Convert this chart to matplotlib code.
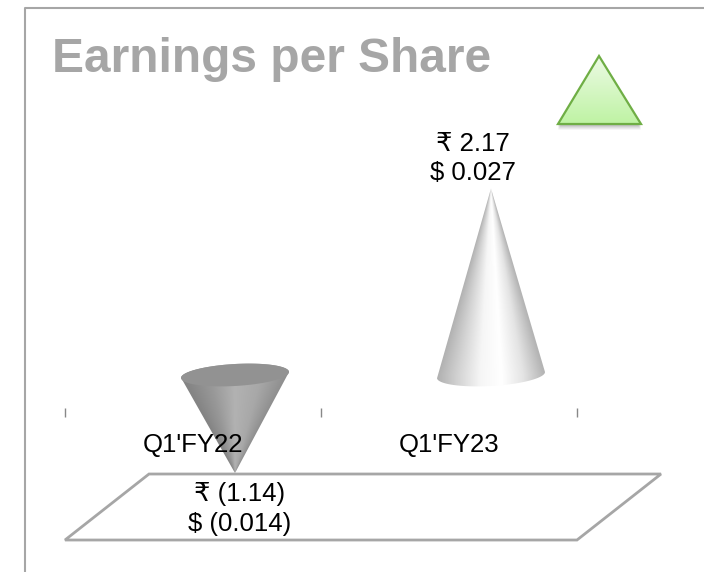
import numpy as np
import matplotlib
matplotlib.use("Agg")
import matplotlib.pyplot as plt
from matplotlib.colors import LinearSegmentedColormap
from matplotlib.patches import Polygon

plt.rcParams['font.family'] = ['Liberation Sans', 'DejaVu Sans']

title = "Earnings per Share"
categories = ["Q1'FY22", "Q1'FY23"]
eps_inr = [-1.14, 2.17]
inr_labels = ["₹ (1.14)", "₹ 2.17"]
usd_labels = ["$ (0.014)", "$ 0.027"]

W, H = 704, 572
# plot area in pixels
left_px, right_px = 65, 577
zero_px = 408      # front of the zero plane
px_per_unit = 86
y_min = -1.535
y_max = 4.0
depth_x = 84       # 3d depth of the floor, pixels
depth_y = 66

fig = plt.figure(figsize=(W / 100, H / 100), dpi=100)

# decoration layer in pixel coords
bg = fig.add_axes([0, 0, 1, 1])
bg.set_xlim(0, W)
bg.set_ylim(H, 0)
bg.axis("off")
bg.plot([24.5, 24.5, W], [H, 7.5, 7.5], color="#a6a6a6", lw=1.5)
bg.text(52, 60, title, fontsize=34.5, fontweight="bold", color="#a6a6a6", va="center")

# green arrow
tri = np.array([[599, 56], [641, 124], [558, 124]])
for off, a in [(6, 0.05), (5, 0.07), (4, 0.08), (3, 0.1), (2, 0.12)]:
    bg.add_patch(Polygon(tri + [0, off], closed=True, fc="#555555", ec="none", alpha=a, zorder=1))
green = LinearSegmentedColormap.from_list("g", ["#ecfae4", "#bff3a4"])
im = bg.imshow(np.linspace(0, 1, 64)[:, None], cmap=green, extent=[558, 641, 124, 56],
               aspect="auto", origin="upper", zorder=2)
tri_patch = Polygon(tri, closed=True, fc="none", ec="#6fae45", lw=1.6, joinstyle="miter", zorder=3)
bg.add_patch(tri_patch)
im.set_clip_path(tri_patch)
bg.set_xlim(0, W)
bg.set_ylim(H, 0)

# chart axes, x is in categories, y in rupees
bottom_px = zero_px - y_min * px_per_unit
top_px = zero_px - y_max * px_per_unit
ax = fig.add_axes([left_px / W, 1 - bottom_px / H, (right_px - left_px) / W, (bottom_px - top_px) / H])
ax.patch.set_alpha(0)
ax.set_xlim(0, 2)
ax.set_ylim(y_min, y_max)
for s in ax.spines.values():
    s.set_visible(False)
ax.spines['bottom'].set_position(('data', 0))
ax.yaxis.set_visible(False)
ax.set_axisbelow(False)
ax.set_xticks([0, 1, 2])
ax.set_xticklabels([])
ax.tick_params(axis='x', which='major', length=6.5, width=1, color="#888888")
ax.set_xticks([0.5, 1.5], minor=True)
ax.set_xticklabels(categories, minor=True, fontsize=18.5)
ax.tick_params(axis='x', which='minor', length=0, pad=18, labelcolor="black")

dx_unit = (ax.get_xlim()[1] - ax.get_xlim()[0]) / (right_px - left_px)
dy_unit = 1 / px_per_unit

# floor at the axis minimum
floor = Polygon([[0, y_min], [2, y_min], [2 + depth_x * dx_unit, y_min + depth_y * dy_unit],
                 [depth_x * dx_unit, y_min + depth_y * dy_unit]],
                closed=True, fc="white", ec="#a6a6a6", lw=2, clip_on=False, zorder=1)
ax.add_patch(floor)

up_shade = LinearSegmentedColormap.from_list("u", ["#b0b0b0", "#d4d4d4", "#f6f6f6", "#ffffff", "#e4e4e4", "#b4b4b4"])
down_shade = LinearSegmentedColormap.from_list("d", ["#848484", "#989898", "#b2b2b2", "#a8a8a8", "#8e8e8e"])
base_half_w = 54
base_half_h = 11
tilt = -0.055


def draw_cone(i, v, labels):
    cx = i + 0.5 + depth_x / 2 * dx_unit
    base_y = depth_y / 2 * dy_unit
    t = np.linspace(0, 2 * np.pi, 120)
    ex = base_half_w * np.cos(t)
    ey = base_half_h * np.sin(t) - tilt * base_half_w * np.cos(t)
    ell = np.c_[cx + ex * dx_unit, base_y + ey * dy_unit]
    apex = [cx, v + base_y]
    keep = ey <= -tilt * base_half_w * np.cos(t) if v > 0 else ey >= -tilt * base_half_w * np.cos(t)
    side = ell[keep]
    side = side[np.argsort(side[:, 0])]
    poly = Polygon(np.vstack([side, [apex]]), closed=True, fc="none", ec="none", zorder=3)
    ax.add_patch(poly)

    # shading follows the cone, u runs from left edge to right edge at each height
    ny, nx = 200, 200
    xs = np.linspace(cx - base_half_w * dx_unit, cx + base_half_w * dx_unit, nx)
    lo, hi = min(apex[1], base_y - 14 * dy_unit), max(apex[1], base_y + 14 * dy_unit)
    ys = np.linspace(lo, hi, ny)
    X, Y = np.meshgrid(xs, ys)
    frac = np.clip((Y - apex[1]) / (base_y - apex[1]), 0.02, 1)
    u = np.clip((X - cx) / (base_half_w * dx_unit * frac), -1, 1) / 2 + 0.5
    cm = up_shade if v > 0 else down_shade
    im = ax.imshow(u, cmap=cm, vmin=0, vmax=1, extent=[xs[0], xs[-1], lo, hi], origin="lower",
                   aspect="auto", zorder=2, clip_on=True)
    im.set_clip_path(poly)
    if v < 0:
        ax.add_patch(Polygon(ell, closed=True, fc="#929292", ec="none", zorder=3))
        ax.text(cx + 5 * dx_unit, v + 24 * dy_unit, labels, ha="center", va="top", fontsize=18.5,
                linespacing=1.3, zorder=5)
    else:
        ax.text(cx - 18 * dx_unit, v + base_y + 3 * dy_unit, labels, ha="center", va="bottom", fontsize=18.5,
                linespacing=1.3, zorder=5)


for i, v in enumerate(eps_inr):
    draw_cone(i, v, inr_labels[i] + "\n" + usd_labels[i])

ax.set_xlim(0, 2)
ax.set_ylim(y_min, y_max)
fig.savefig("out.png", dpi=100)
